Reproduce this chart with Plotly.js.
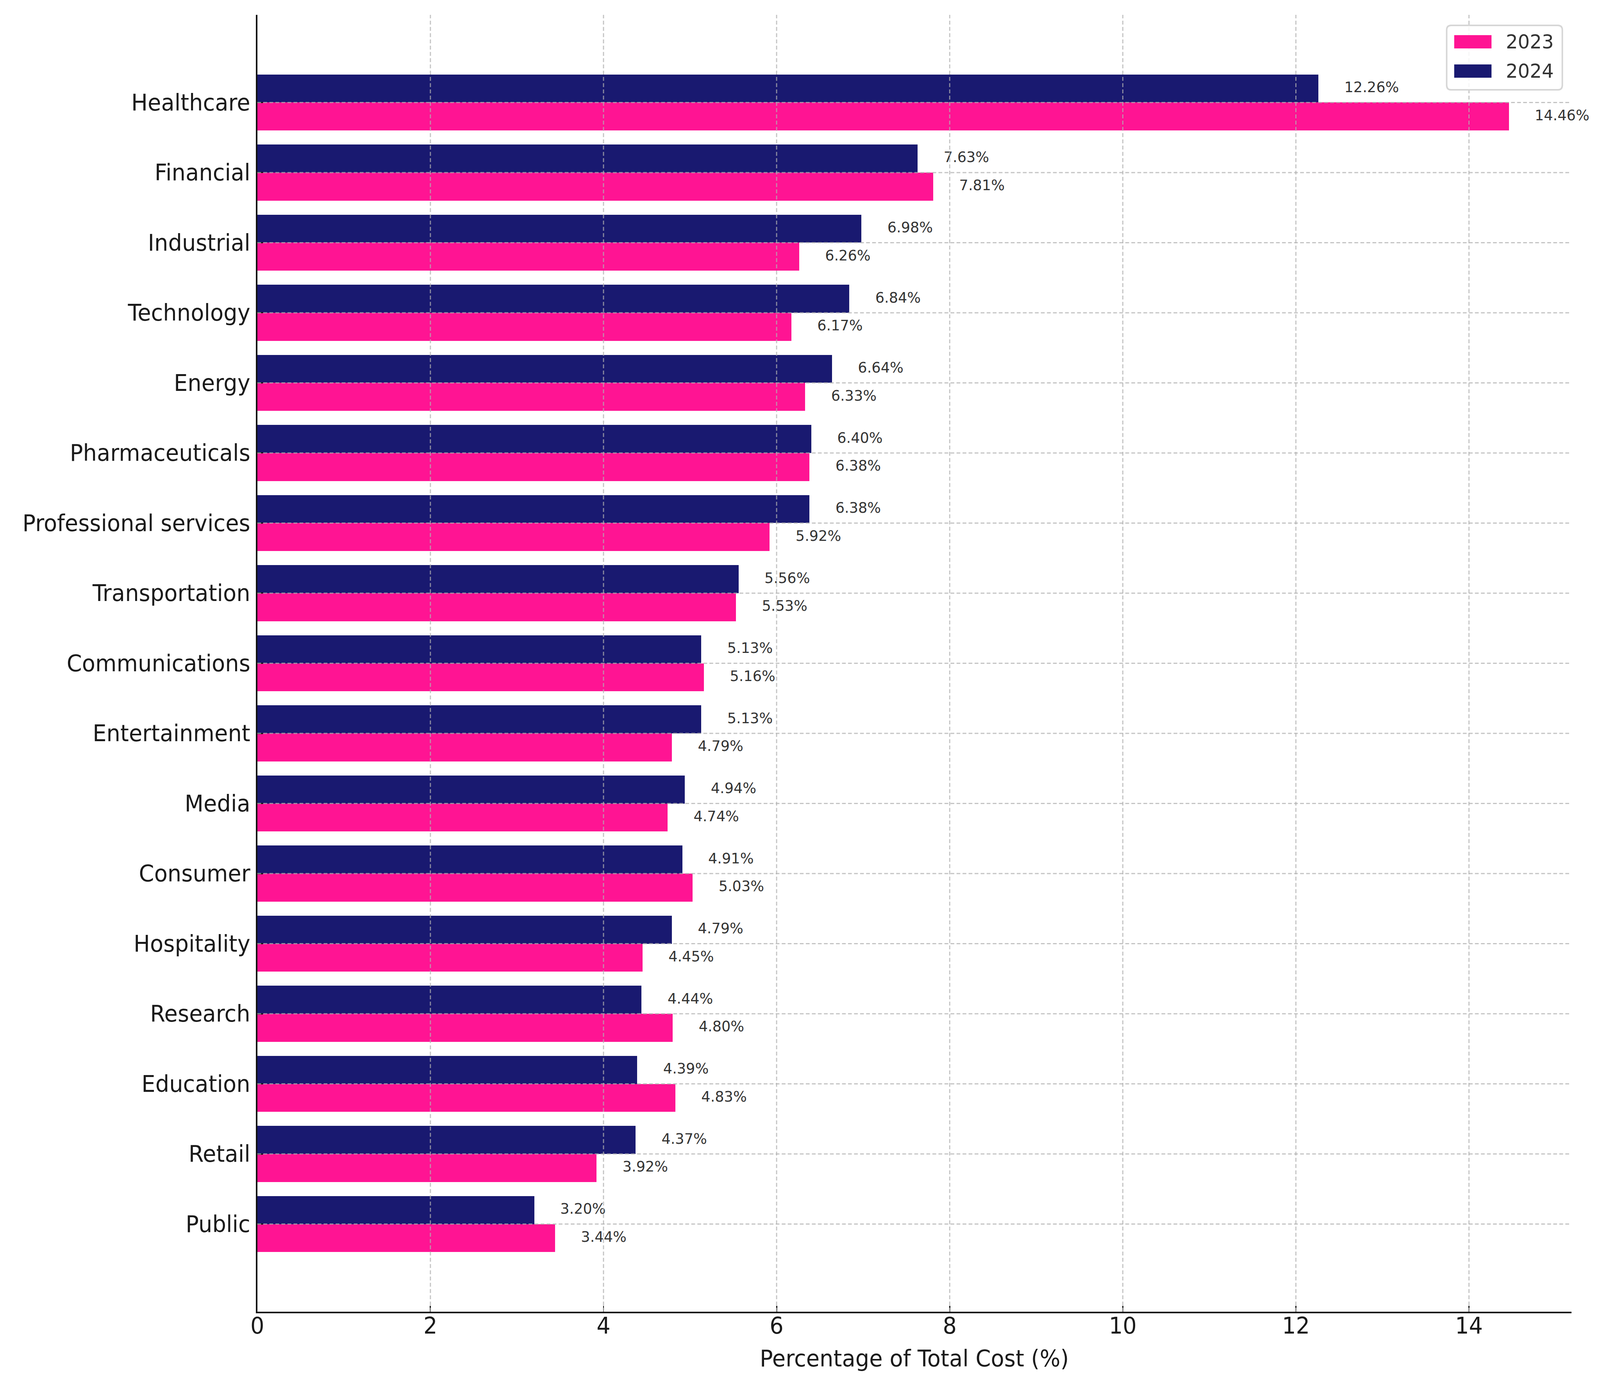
<!DOCTYPE html>
<html>
<head>
<meta charset="utf-8">
<script src="https://cdn.plot.ly/plotly-3.0.1.min.js"></script>
<style>
  html, body { margin:0; padding:0; background:#fff; overflow:hidden; }
  #chart { width:4247px; height:3539px; transform-origin:0 0; }
</style>
</head>
<body>
<div id="chart"></div>
<script>
// data
const sectors = ['Healthcare','Financial','Industrial','Technology','Energy','Pharmaceuticals',
  'Professional services','Transportation','Communications','Entertainment','Media','Consumer',
  'Hospitality','Research','Education','Retail','Public'];
const years = ['2023','2024'];
const cost2023 = [14.46,7.81,6.26,6.17,6.33,6.38,5.92,5.53,5.16,4.79,4.74,5.03,4.45,4.80,4.83,3.92,3.44];
const cost2024 = [12.26,7.63,6.98,6.84,6.64,6.40,6.38,5.56,5.13,5.13,4.94,4.91,4.79,4.44,4.39,4.37,3.20];
const xTicks = [0,2,4,6,8,10,12,14];

const W = 4247, H = 3539;
const M = { l:683, r:76, t:38, b:180 };
const COLORS = { '2023':'#ff1493', '2024':'#191970' };
const FONT = 'DejaVu Sans, Liberation Sans, sans-serif';
const GRID = 'rgba(176,176,176,0.75)';

// the window may differ a bit from the figure size: scale the whole thing to fit
function fit(){
  const el = document.getElementById('chart');
  const sx = window.innerWidth / W, sy = window.innerHeight / H;
  el.style.transform = 'scale(' + sx + ',' + sy + ')';
}
fit();
window.addEventListener('resize', fit);

// pixel -> paper helpers (for the hand drawn legend)
function px(x){ return (x - M.l) / (W - M.l - M.r); }
function py(y){ return 1 - (y - M.t) / (H - M.t - M.b); }

const idx = sectors.map((_, i) => i);
const BAR_H = 0.4;

function barTrace(name, vals, shift){
  return {
    type:'bar', orientation:'h', name:name,
    x: vals, y: idx.map(i => i + shift), width: BAR_H,
    marker:{ color: COLORS[name], line:{ width:0 } },
    hoverinfo:'none', showlegend:false
  };
}
function labelTrace(name, vals, shift){
  return {
    type:'scatter', mode:'text',
    x: vals.map(v => v + 0.3), y: idx.map(i => i + shift),
    text: vals.map(v => v.toFixed(2) + '%'),
    textposition:'middle right',
    textfont:{ family:FONT, size:38, color:'#333' },
    cliponaxis:false, hoverinfo:'none', showlegend:false
  };
}

const data = [
  barTrace('2023', cost2023, BAR_H/2),
  barTrace('2024', cost2024, -BAR_H/2),
  labelTrace('2023', cost2023, BAR_H/2),
  labelTrace('2024', cost2024, -BAR_H/2)
];

// dashed grid over the bars, like the original
const shapes = [];
xTicks.filter(t => t > 0).forEach(t => {
  shapes.push({ type:'line', layer:'above', xref:'x', yref:'paper', x0:t, x1:t, y0:0, y1:1,
    line:{ color:GRID, width:3, dash:'10px,6px' } });
});
idx.forEach(i => {
  shapes.push({ type:'line', layer:'above', xref:'paper', yref:'y', x0:0, x1:1, y0:i, y1:i,
    line:{ color:GRID, width:3, dash:'10px,6px' } });
});

// legend box (rounded) + swatches
(function(){
  const L = 3840, R = 4147, T = 65, B = 230, rad = 12;
  const d = 'M' + px(L+rad) + ',' + py(T) +
    ' L' + px(R-rad) + ',' + py(T) + ' Q' + px(R) + ',' + py(T) + ' ' + px(R) + ',' + py(T+rad) +
    ' L' + px(R) + ',' + py(B-rad) + ' Q' + px(R) + ',' + py(B) + ' ' + px(R-rad) + ',' + py(B) +
    ' L' + px(L+rad) + ',' + py(B) + ' Q' + px(L) + ',' + py(B) + ' ' + px(L) + ',' + py(B-rad) +
    ' L' + px(L) + ',' + py(T+rad) + ' Q' + px(L) + ',' + py(T) + ' ' + px(L+rad) + ',' + py(T) + ' Z';
  shapes.push({ type:'path', layer:'above', xref:'paper', yref:'paper', path:d,
    fillcolor:'rgba(255,255,255,0.85)', line:{ color:'#d6d6d6', width:4 } });
})();

const annotations = [];
years.forEach((yr, k) => {
  const cy = 107 + k*75;
  shapes.push({ type:'rect', layer:'above', xref:'paper', yref:'paper',
    x0:px(3860), x1:px(3959), y0:py(cy+17), y1:py(cy-17),
    fillcolor:COLORS[yr], line:{ width:0 } });
  annotations.push({ xref:'paper', yref:'paper', x:px(3995), y:py(cy), xanchor:'left', yanchor:'middle',
    text:yr, showarrow:false, font:{ family:FONT, size:50, color:'#333' } });
});

const layout = {
  width:W, height:H,
  margin:{ l:M.l, r:M.r, t:M.t, b:M.b, pad:0 },
  paper_bgcolor:'#fff', plot_bgcolor:'#fff',
  font:{ family:FONT, color:'#1a1a1a' },
  showlegend:false,
  bargap:0,
  xaxis:{
    range:[0, 15.183], tickvals:xTicks, ticktext:xTicks.map(String),
    showgrid:false, zeroline:false,
    showline:true, linecolor:'#111', linewidth:4, mirror:false,
    ticks:'inside', ticklen:15, tickwidth:3, tickcolor:'#111',
    tickfont:{ family:FONT, size:58, color:'#1a1a1a' },
    ticklabelstandoff:-18,
    title:{ text:'Percentage of Total Cost (%)', standoff:32,
      font:{ family:FONT, size:58, color:'#1a1a1a' } },
    automargin:false, fixedrange:true
  },
  yaxis:{
    range:[sectors.length + 0.25, -1.25], tickvals:idx, ticktext:sectors,
    showgrid:false, zeroline:false,
    showline:true, linecolor:'#111', linewidth:4,
    ticks:'inside', ticklen:15, tickwidth:3, tickcolor:'#111',
    tickfont:{ family:FONT, size:58, color:'#1a1a1a' },
    ticklabelstandoff:3,
    automargin:false, fixedrange:true
  },
  shapes:shapes,
  annotations:annotations
};

Plotly.newPlot('chart', data, layout, { displayModeBar:false, staticPlot:true });
</script>
</body>
</html>
